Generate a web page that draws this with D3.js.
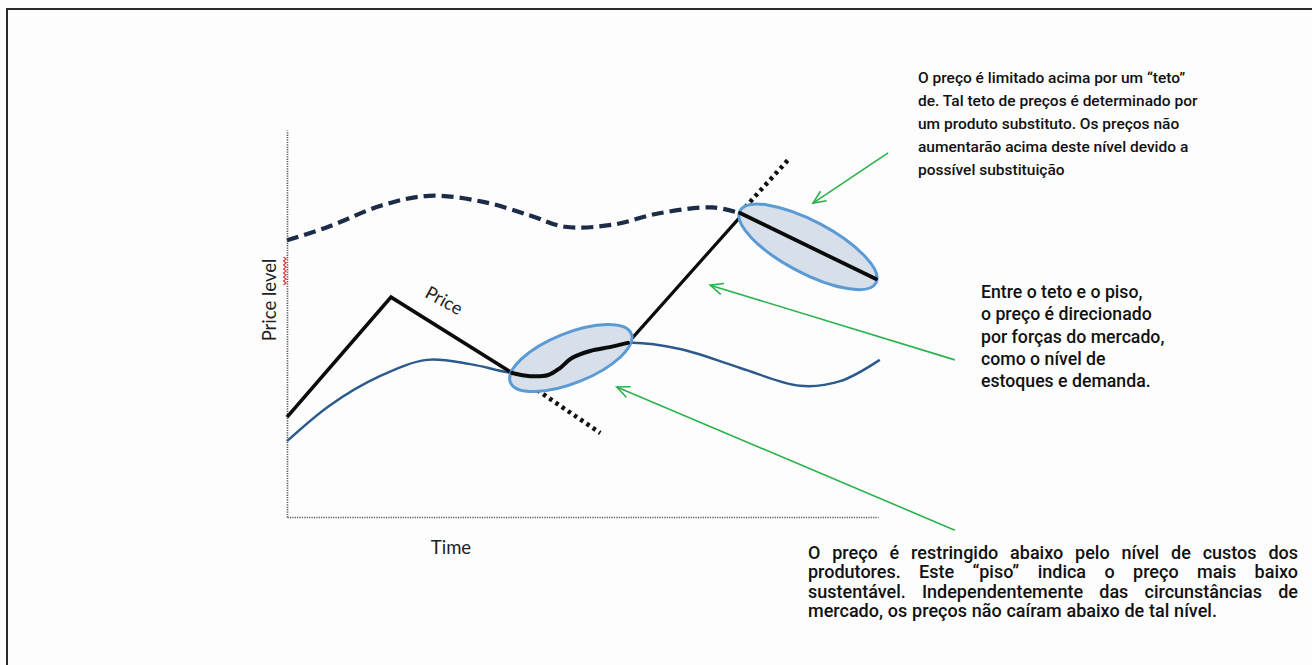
<!DOCTYPE html>
<html>
<head>
<meta charset="utf-8">
<script src="https://cdn.jsdelivr.net/npm/d3@7"></script>
<style>
  html, body { margin: 0; padding: 0; background: #fdfdfd; }
  svg { display: block; }
</style>
</head>
<body>
<svg id="chart" width="1312" height="665"></svg>
<script>
// ---- data (time and price level in arbitrary units, 0–100) ----
const ceilingTime  = [0, 7, 16, 24, 33, 41, 47, 55, 63, 72, 76.7];
const ceilingLevel = [71.5, 75, 80.5, 83, 81.5, 78, 75, 75.5, 78.5, 80, 78.5];

const floorTime  = [0, 7.3, 15.7, 23.7, 31, 38.1, 44.2, 48.2, 54.6, 57.7, 66.5, 76.7, 86.8, 93.6, 100.3];
const floorLevel = [19.6, 28.9, 36.4, 40.6, 39.5, 37.2, 36.7, 41.1, 43.9, 45, 43.4, 38.5, 33.9, 35.1, 40.6];

// price path: free market segments (straight) and floor-/ceiling-bound segments
const priceTime  = [0, 17.6, 38.1];
const priceLevel = [25.8, 56.8, 37.2];
const floorBoundTime  = [38.1, 41.1, 44.2, 46.2, 48.2, 51.3, 54.6, 57.7];
const floorBoundLevel = [37.2, 36.4, 36.7, 38.5, 41.1, 42.9, 43.9, 45.0];
const riseTime  = [57.7, 76.65];
const riseLevel = [45.0, 77.5];
const ceilBoundTime  = [76.65, 99.66];
const ceilBoundLevel = [78.55, 61.5];

// hypothetical price paths without floor / ceiling (dotted)
const fallTime  = [38.1, 53.0];
const fallLevel = [37.2, 21.7];
const breakTime  = [76.65, 85.1];
const breakLevel = [78.55, 92.8];

// highlighted regions: major-axis end points
const regionStartTime  = [37.8, 76.65];
const regionStartLevel = [34.8, 79.1];
const regionEndTime    = [58.26, 99.66];
const regionEndLevel   = [47.36, 60.5];

// annotation arrows: head and tail
const arrowHeadTime  = [89.0, 71.6, 55.8];
const arrowHeadLevel = [81.1, 59.9, 33.6];
const arrowTailTime  = [101.7, 113.0, 113.0];
const arrowTailLevel = [94.1, 40.6, -3.4];

const noteCeiling = [
  "O preço é limitado acima por um “teto”",
  "de. Tal teto de preços é determinado por",
  "um produto substituto. Os preços não",
  "aumentarão acima deste nível devido a",
  "possível substituição"
];
const noteMarket = [
  "Entre o teto e o piso,",
  "o preço é direcionado",
  "por forças do mercado,",
  "como o nível de",
  "estoques e demanda."
];
const noteFloor = [
  "O preço é restringido abaixo pelo nível de custos dos",
  "produtores. Este “piso” indica o preço mais baixo",
  "sustentável. Independentemente das circunstâncias de",
  "mercado, os preços não caíram abaixo de tal nível."
];

// ---- drawing ----
const svg = d3.select("#chart");
const x = d3.scaleLinear().domain([0, 100]).range([287, 878]);
const y = d3.scaleLinear().domain([0, 100]).range([517, 130]);

// outer frame
svg.append("rect").attr("x", 7).attr("y", 9).attr("width", 1320).attr("height", 680)
  .attr("fill", "#fdfdfd").attr("stroke", "#2a2a2a").attr("stroke-width", 2);

// axes (dotted, no ticks)
const yAxis = d3.axisLeft(y).tickValues([]).tickSizeOuter(0);
const xAxis = d3.axisBottom(x).tickValues([]).tickSizeOuter(0);
const gy = svg.append("g").attr("transform", `translate(${x(0)},0)`).call(yAxis);
const gx = svg.append("g").attr("transform", `translate(0,${y(0)})`).call(xAxis);
[gx, gy].forEach(g => g.select(".domain")
  .attr("stroke", "#555").attr("stroke-width", 1.6).attr("stroke-dasharray", "1.2,1.2"));

const zip = (a, b) => a.map((v, i) => [v, b[i]]);
const smooth = d3.line().x(d => x(d[0])).y(d => y(d[1])).curve(d3.curveCatmullRom.alpha(0.5));
const straight = d3.line().x(d => x(d[0])).y(d => y(d[1]));

// floor (producer cost)
svg.append("path").attr("d", smooth(zip(floorTime, floorLevel)))
  .attr("fill", "none").attr("stroke", "#2c5a8c").attr("stroke-width", 2.4);

// ceiling (substitute product)
svg.append("path").attr("d", smooth(zip(ceilingTime, ceilingLevel)))
  .attr("fill", "none").attr("stroke", "#1c2b47").attr("stroke-width", 4.2)
  .attr("stroke-dasharray", "12,6");

// dotted hypothetical paths
[[fallTime, fallLevel], [breakTime, breakLevel]].forEach(([t, l]) => {
  svg.append("path").attr("d", straight(zip(t, l)))
    .attr("fill", "none").attr("stroke", "#111").attr("stroke-width", 4.5)
    .attr("stroke-dasharray", "3.5,4");
});

// price: free segments
svg.append("path").attr("d", straight(zip(priceTime, priceLevel)))
  .attr("fill", "none").attr("stroke", "#0b0b0b").attr("stroke-width", 3.6)
  .attr("stroke-linejoin", "miter");
svg.append("path").attr("d", straight(zip(riseTime, riseLevel)))
  .attr("fill", "none").attr("stroke", "#0b0b0b").attr("stroke-width", 3.2);

// highlighted regions
const ryPx = [25, 26];
regionStartTime.forEach((t0, i) => {
  const x0 = x(t0), y0 = y(regionStartLevel[i]);
  const x1 = x(regionEndTime[i]), y1 = y(regionEndLevel[i]);
  const cx = (x0 + x1) / 2, cy = (y0 + y1) / 2;
  const rx = Math.hypot(x1 - x0, y1 - y0) / 2;
  const ang = Math.atan2(y1 - y0, x1 - x0) * 180 / Math.PI;
  svg.append("ellipse")
    .attr("cx", 0).attr("cy", 0).attr("rx", rx).attr("ry", ryPx[i])
    .attr("transform", `translate(${cx},${cy}) rotate(${ang})`)
    .attr("fill", "#d7dfeb").attr("stroke", "#5b9bd5").attr("stroke-width", 3);
});

// price: bound segments (on top of highlighted regions)
svg.append("path").attr("d", smooth(zip(floorBoundTime, floorBoundLevel)))
  .attr("fill", "none").attr("stroke", "#0b0b0b").attr("stroke-width", 4)
  .attr("stroke-linecap", "round");
svg.append("path").attr("d", straight(zip(ceilBoundTime, ceilBoundLevel)))
  .attr("fill", "none").attr("stroke", "#0b0b0b").attr("stroke-width", 3.8)
  .attr("stroke-linecap", "round");

// axis titles
const axisFont = "Lato, 'Open Sans', sans-serif";
svg.append("text").text("Time")
  .attr("x", 451).attr("y", 554).attr("text-anchor", "middle")
  .attr("font-family", axisFont).attr("font-size", 18.5).attr("fill", "#222");
svg.append("text").text("Price level")
  .attr("transform", "translate(276,300) rotate(-90)").attr("text-anchor", "middle")
  .attr("font-family", axisFont).attr("font-size", 18.5).attr("fill", "#222");
// spell-check squiggle under "level"
(function () {
  let d = "M283.5,257";
  for (let yy = 257, k = 0; yy < 284; yy += 2, k++) d += ` L${k % 2 ? 283.5 : 286},${yy + 2}`;
  svg.append("path").attr("d", d).attr("fill", "none").attr("stroke", "#e0323a").attr("stroke-width", 1.1);
})();
svg.append("text").text("Price")
  .attr("transform", "translate(441,306) rotate(29)").attr("text-anchor", "middle")
  .attr("font-family", axisFont).attr("font-size", 18).attr("fill", "#222");

// annotation arrows
const green = "#2bb24c";
arrowHeadTime.forEach((t, i) => {
  const hx = x(t), hy = y(arrowHeadLevel[i]);
  const tx = x(arrowTailTime[i]), ty = y(arrowTailLevel[i]);
  svg.append("line").attr("x1", tx).attr("y1", ty).attr("x2", hx).attr("y2", hy)
    .attr("stroke", green).attr("stroke-width", 1.6);
  const a = Math.atan2(ty - hy, tx - hx), L = 14, spread = 0.42;
  const p = s => [hx + L * Math.cos(a + s), hy + L * Math.sin(a + s)];
  const [p1, p2] = [p(spread), p(-spread)];
  svg.append("path").attr("d", `M${p1[0]},${p1[1]} L${hx},${hy} L${p2[0]},${p2[1]}`)
    .attr("fill", "none").attr("stroke", green).attr("stroke-width", 1.6);
});

// notes
const noteFont = "Roboto, 'Noto Sans', sans-serif";
function block(lines, x0, y0, lh, size) {
  const t = svg.append("text").attr("font-family", noteFont).attr("font-size", size)
    .attr("font-weight", 500).attr("fill", "#111");
  lines.forEach((s, i) => t.append("tspan").attr("x", x0).attr("y", y0 + i * lh).text(s));
}
block(noteCeiling, 918, 83, 23, 15.5);
block(noteMarket, 981, 298, 22.3, 17.7);

// justified note below the chart
(function () {
  const left = 808, right = 1298, y0 = 559, lh = 19.4, size = 18;
  noteFloor.forEach((s, li) => {
    const words = s.split(" ");
    const g = svg.append("g");
    const nodes = words.map(w => g.append("text").text(w)
      .attr("font-family", noteFont).attr("font-size", size).attr("font-weight", 500)
      .attr("fill", "#111").attr("y", y0 + li * lh));
    const widths = nodes.map(n => n.node().getComputedTextLength());
    const total = d3.sum(widths);
    const last = li === noteFloor.length - 1;
    const gap = last ? 4.8 : (right - left - total) / (words.length - 1);
    let cx = left;
    nodes.forEach((n, i) => { n.attr("x", cx); cx += widths[i] + gap; });
  });
})();
</script>
</body>
</html>
